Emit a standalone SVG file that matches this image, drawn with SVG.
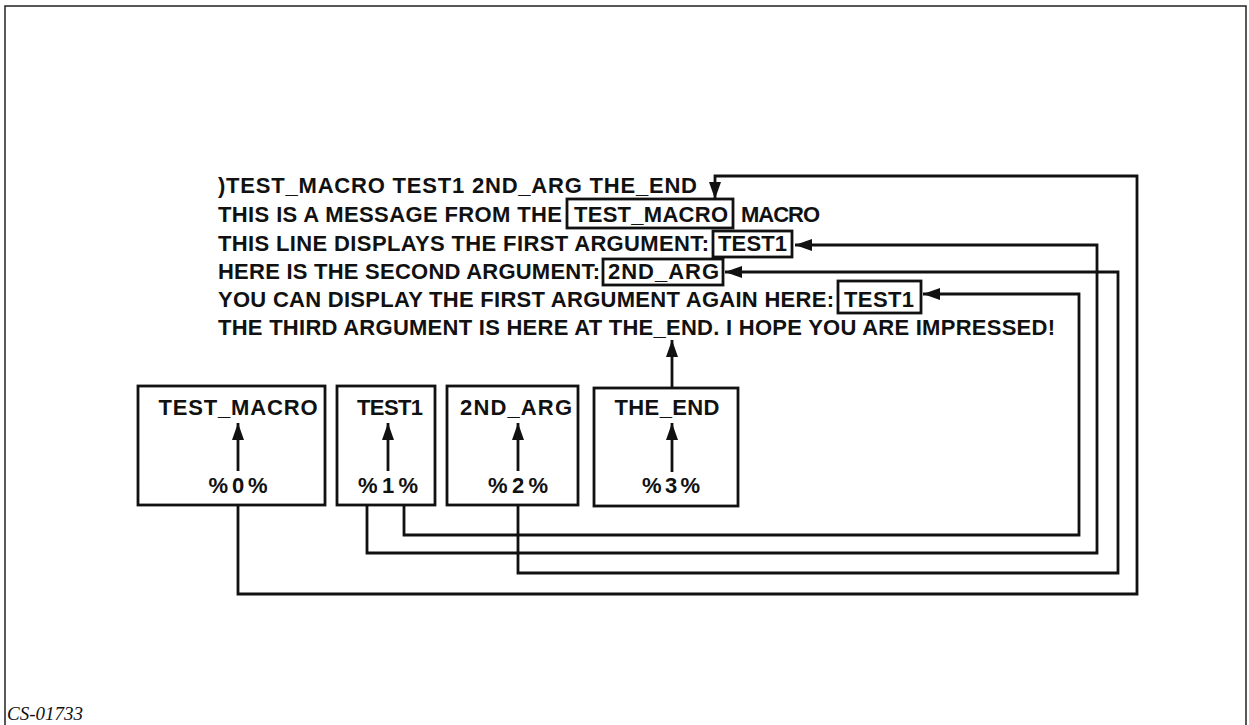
<svg xmlns="http://www.w3.org/2000/svg" width="1249" height="725" viewBox="0 0 1249 725">
<style>
.t{font-family:"Liberation Sans",Arial,sans-serif;font-weight:bold;font-size:22px;fill:#111}
.c{text-anchor:middle}
.box{fill:none;stroke:#111;stroke-width:2.8}
.ln{fill:none;stroke:#111;stroke-width:2.8}
.fr{fill:none;stroke:#222;stroke-width:1.5}
.cap{font-family:"Liberation Serif","Times New Roman",serif;font-style:italic;font-size:19px;fill:#111}
</style>
<defs>
<marker id="ah" markerUnits="userSpaceOnUse" markerWidth="17" markerHeight="12" refX="17" refY="6" orient="auto">
<path d="M0,0 L17,6 L0,12 z" fill="#111"/>
</marker>
</defs>
<rect width="1249" height="725" fill="#fff"/>
<path class="fr" d="M5,725 V6 H1246 V725"/>
<text class="cap" x="7" y="720">CS-01733</text>

<g id="listing">
<text class="t" x="218" y="193" textLength="479" lengthAdjust="spacing">)TEST_MACRO TEST1 2ND_ARG THE_END</text>
<text class="t" x="218" y="222" textLength="344" lengthAdjust="spacing">THIS IS A MESSAGE FROM THE</text>
<rect class="box" x="567" y="199" width="166" height="29"/>
<text class="t" x="574" y="222" textLength="154" lengthAdjust="spacing">TEST_MACRO</text>
<text class="t" x="741" y="222" textLength="79" lengthAdjust="spacing">MACRO</text>
<text class="t" x="218" y="251" textLength="491" lengthAdjust="spacing">THIS LINE DISPLAYS THE FIRST ARGUMENT:</text>
<rect class="box" x="713" y="231" width="79" height="26"/>
<text class="t" x="718" y="251" textLength="69" lengthAdjust="spacing">TEST1</text>
<text class="t" x="218" y="279" textLength="382" lengthAdjust="spacing">HERE IS THE SECOND ARGUMENT:</text>
<rect class="box" x="603" y="259" width="120" height="26"/>
<text class="t" x="608" y="279" textLength="111" lengthAdjust="spacing">2ND_ARG</text>
<text class="t" x="218" y="307" textLength="616" lengthAdjust="spacing">YOU CAN DISPLAY THE FIRST ARGUMENT AGAIN HERE:</text>
<rect class="box" x="838" y="281" width="83" height="32"/>
<text class="t" x="844" y="307" textLength="70" lengthAdjust="spacing">TEST1</text>
<text class="t" x="218" y="335" textLength="837" lengthAdjust="spacing">THE THIRD ARGUMENT IS HERE AT THE_END. I HOPE YOU ARE IMPRESSED!</text>
</g>

<g id="node0">
<rect class="box" x="138" y="386" width="187" height="119"/>
<text class="t c" x="238" y="415" textLength="159" lengthAdjust="spacing">TEST_MACRO</text>
<line class="ln" x1="238" y1="471" x2="238" y2="423" marker-end="url(#ah)"/>
<text class="t c" x="238" y="493" textLength="59" lengthAdjust="spacing">%0%</text>
</g>
<g id="node1">
<rect class="box" x="337" y="386" width="98" height="119"/>
<text class="t c" x="390" y="415" textLength="66" lengthAdjust="spacing">TEST1</text>
<line class="ln" x1="388" y1="471" x2="388" y2="423" marker-end="url(#ah)"/>
<text class="t c" x="388" y="493" textLength="60" lengthAdjust="spacing">%1%</text>
</g>
<g id="node2">
<rect class="box" x="447" y="386" width="131" height="119"/>
<text class="t c" x="516" y="415" textLength="112" lengthAdjust="spacing">2ND_ARG</text>
<line class="ln" x1="518" y1="471" x2="518" y2="423" marker-end="url(#ah)"/>
<text class="t c" x="518" y="493" textLength="60" lengthAdjust="spacing">%2%</text>
</g>
<g id="node3">
<rect class="box" x="594" y="388" width="144" height="118"/>
<text class="t c" x="667" y="415" textLength="105" lengthAdjust="spacing">THE_END</text>
<line class="ln" x1="672" y1="472" x2="672" y2="423" marker-end="url(#ah)"/>
<text class="t c" x="671" y="493" textLength="58" lengthAdjust="spacing">%3%</text>
</g>

<g id="connectors">
<polyline class="ln" points="238,505 238,594 1137,594 1137,176 715,176 715,199" marker-end="url(#ah)"/>
<polyline class="ln" points="367,505 367,553 1097,553 1097,245 795,245" marker-end="url(#ah)"/>
<polyline class="ln" points="404,505 404,535 1079,535 1079,294 923,294" marker-end="url(#ah)"/>
<polyline class="ln" points="518,505 518,573 1118,573 1118,272 725,272" marker-end="url(#ah)"/>
<line class="ln" x1="672" y1="388" x2="672" y2="340" marker-end="url(#ah)"/>
</g>
</svg>
